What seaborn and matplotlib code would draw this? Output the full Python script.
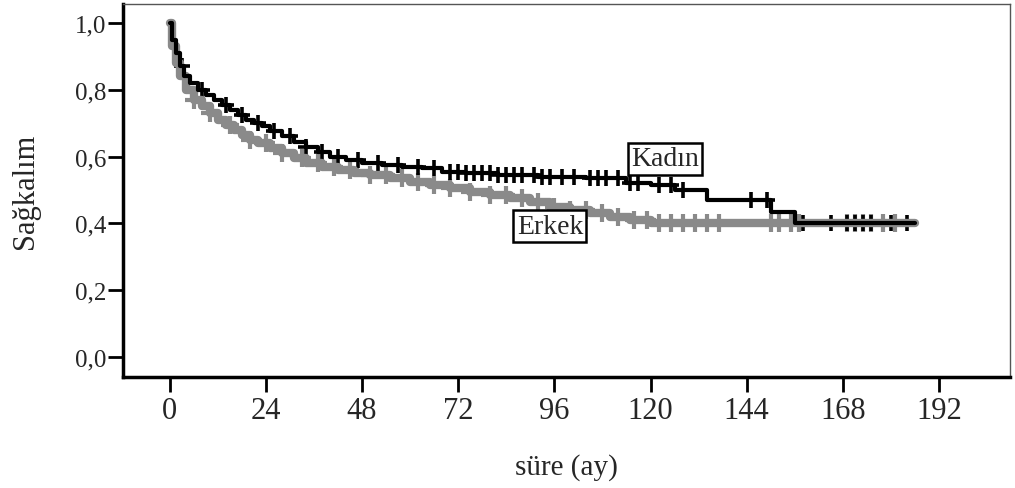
import numpy as np
import pandas as pd
import matplotlib
matplotlib.use("Agg")
import matplotlib.pyplot as plt
import seaborn as sns

# ---- data (months, survival) ----
kadin_t = [0, 0.5, 1.5, 2.5, 3.5, 5, 7, 9, 11, 13, 15, 17, 19, 21, 23, 25, 28, 31, 34,
           37, 40, 44, 48, 53, 58, 63, 68, 74, 82, 92, 104, 114, 120, 126, 134, 150, 156, 186]
kadin_s = [1.0, 0.95, 0.91, 0.87, 0.84, 0.82, 0.80, 0.785, 0.77, 0.755, 0.74, 0.725, 0.71,
           0.70, 0.69, 0.675, 0.66, 0.645, 0.63, 0.615, 0.60, 0.59, 0.58, 0.575, 0.57, 0.565,
           0.555, 0.55, 0.545, 0.54, 0.535, 0.52, 0.515, 0.50, 0.47, 0.435, 0.40, 0.40]

erkek_t = [0, 0.5, 1.5, 2.5, 4, 6, 8, 10, 12, 14, 16, 18, 20, 22, 25, 28, 31, 34, 38, 42,
           46, 50, 55, 60, 65, 70, 75, 80, 85, 90, 95, 100, 105, 110, 115, 120, 186]
erkek_s = [1.0, 0.93, 0.88, 0.84, 0.80, 0.77, 0.75, 0.73, 0.71, 0.695, 0.68, 0.665, 0.65,
           0.64, 0.625, 0.61, 0.595, 0.58, 0.57, 0.56, 0.55, 0.545, 0.535, 0.525, 0.515,
           0.505, 0.495, 0.485, 0.475, 0.465, 0.45, 0.44, 0.43, 0.42, 0.41, 0.40, 0.40]

# censored times
kadin_cens = [3, 8, 14, 18, 22, 26, 30, 34, 38, 42, 47, 52, 57, 62, 66, 70, 72, 74, 76, 78,
              80, 82, 84, 86, 88, 91, 93, 95, 98, 101, 105, 107, 109, 112, 115, 117, 122,
              125, 128, 145, 149, 158, 165, 169, 171, 173, 175, 180, 184]
erkek_cens = [6, 10, 15, 20, 24, 28, 33, 37, 41, 45, 50, 54, 58, 62, 66, 70, 75, 80, 84,
              88, 92, 96, 100, 104, 108, 112, 116, 119, 122, 125, 128, 131, 134, 137, 150,
              152, 155, 157, 169, 171, 173, 175, 178, 181]

x_ticks = [0, 24, 48, 72, 96, 120, 144, 168, 192]
y_ticks = [0.0, 0.2, 0.4, 0.6, 0.8, 1.0]
y_ticklabels = ["0,0", "0,2", "0,4", "0,6", "0,8", "1,0"]


def step_at(times, surv, t):
    i = np.searchsorted(times, t, side="right") - 1
    return np.asarray(surv)[i]


kadin = pd.DataFrame({"sure": kadin_t, "sag": kadin_s})
erkek = pd.DataFrame({"sure": erkek_t, "sag": erkek_s})
kc = pd.DataFrame({"sure": kadin_cens, "sag": step_at(kadin_t, kadin_s, kadin_cens)})
ec = pd.DataFrame({"sure": erkek_cens, "sag": step_at(erkek_t, erkek_s, erkek_cens)})

sns.set_style("white")
plt.rcParams["font.family"] = ["Liberation Serif", "DejaVu Serif"]

fig = plt.figure(figsize=(10.15, 4.89), dpi=100)
ax = fig.add_axes([0.121, 0.227, 0.874, 0.763])

gray = "#8a8a8a"
sns.lineplot(data=erkek, x="sure", y="sag", drawstyle="steps-post", color=gray,
             linewidth=6, ax=ax, estimator=None)
sns.scatterplot(data=ec, x="sure", y="sag", marker="+", s=170, color=gray,
                linewidth=3, ax=ax)
sns.lineplot(data=kadin, x="sure", y="sag", drawstyle="steps-post", color="black",
             linewidth=3, ax=ax, estimator=None)
sns.scatterplot(data=kc, x="sure", y="sag", marker="+", s=130, color="black",
                linewidth=2.6, ax=ax)

box = dict(boxstyle="square,pad=0.12", fc="white", ec="black", lw=1.8)
ax.text(123.6, 0.593, "Kadın", fontsize=20, ha="center", va="center", bbox=box)
ax.text(94.9, 0.392, "Erkek", fontsize=20, ha="center", va="center", bbox=box)

ax.set_xlim(-11.7, 209.7)
ax.set_ylim(-0.06, 1.057)
ax.set_xticks(x_ticks)
ax.set_xticklabels([str(v) for v in x_ticks], fontsize=22)
ax.set_yticks(y_ticks)
ax.set_yticklabels(y_ticklabels, fontsize=18)
ax.tick_params(axis="both", direction="out", length=11, width=2, color="black",
               bottom=True, left=True)
ax.tick_params(axis="x", pad=3)
ax.tick_params(axis="y", pad=1)

for s in ["left", "bottom"]:
    ax.spines[s].set_linewidth(2.5)
    ax.spines[s].set_color("black")
for s in ["top", "right"]:
    ax.spines[s].set_linewidth(1)
    ax.spines[s].set_color("#555555")

ax.set_xlabel("süre (ay)", fontsize=21, labelpad=20)
ax.set_ylabel("Sağkalım", fontsize=22, labelpad=25)

fig.savefig("out.png", dpi=100)
